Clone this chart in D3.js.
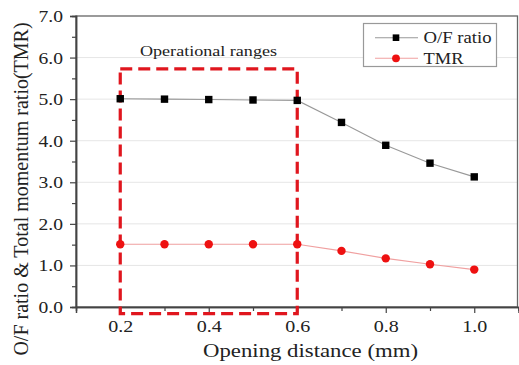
<!DOCTYPE html>
<html>
<head>
<meta charset="utf-8">
<script src="https://cdn.jsdelivr.net/npm/d3@7"></script>
<style>
  html, body { margin: 0; padding: 0; background: #fff; }
  svg { display: block; }
  text { font-family: "Liberation Serif", "Times New Roman", serif; fill: #222; }
</style>
</head>
<body>
<svg id="chart" width="519" height="365"></svg>
<script>
// Opening distance (mm)
const distances = [0.2, 0.3, 0.4, 0.5, 0.6, 0.7, 0.8, 0.9, 1.0];
// O/F ratio per opening distance
const ofRatio = [5.01, 5.00, 4.99, 4.98, 4.97, 4.44, 3.89, 3.46, 3.13];
// Total momentum ratio per opening distance
const tmr = [1.51, 1.51, 1.51, 1.51, 1.51, 1.35, 1.17, 1.03, 0.90];
// Axis ticks
const xTicks = [0.2, 0.4, 0.6, 0.8, 1.0];
const xMinorTicks = [0.3, 0.5, 0.7, 0.9];
const yTicks = [0, 1, 2, 3, 4, 5, 6, 7];
const yMinorTicks = [0.5, 1.5, 2.5, 3.5, 4.5, 5.5, 6.5];
// Operational range box: distance span and value span
const rangeX = [0.2, 0.6];
const rangeY = [-0.16, 5.73];
const rangeLabel = "Operational ranges";

const svg = d3.select("#chart");
const plotLeft = 76, plotRight = 517.5, plotTop = 16, plotBottom = 307;

const x = d3.scaleLinear().domain([0.1, 1.1]).range([plotLeft, plotRight + 1]);
const y = d3.scaleLinear().domain([0, 7]).range([plotBottom, plotTop]);

// widen glyphs horizontally by a factor (or to a fixed width)
function widen(sel, factor, width) {
  sel.each(function () {
    const w = width || this.getComputedTextLength() * factor;
    d3.select(this).attr("textLength", w).attr("lengthAdjust", "spacingAndGlyphs");
  });
}

// horizontal grid lines
svg.append("g").selectAll("line").data(yTicks.filter(d => d > 0 && d < 7)).join("line")
  .attr("x1", plotLeft).attr("x2", plotRight)
  .attr("y1", d => y(d)).attr("y2", d => y(d))
  .attr("stroke", "#e6e6e6").attr("stroke-width", 1);

// frame
svg.append("rect").attr("x", plotLeft).attr("y", plotTop)
  .attr("width", plotRight - plotLeft).attr("height", plotBottom - plotTop)
  .attr("fill", "none").attr("stroke", "#666").attr("stroke-width", 1.3);

// axes
const xAxis = svg.append("g").attr("transform", `translate(0,${plotBottom})`)
  .call(d3.axisBottom(x).tickValues(xTicks).tickFormat(d3.format(".1f")).tickSize(6).tickPadding(7));
const xMinor = svg.append("g").attr("transform", `translate(0,${plotBottom})`)
  .call(d3.axisBottom(x).tickValues(xMinorTicks).tickFormat("").tickSize(4));
const yAxis = svg.append("g").attr("transform", `translate(${plotLeft},0)`)
  .call(d3.axisLeft(y).tickValues(yTicks).tickFormat(d3.format(".1f")).tickSize(6).tickPadding(7));
const yMinor = svg.append("g").attr("transform", `translate(${plotLeft},0)`)
  .call(d3.axisLeft(y).tickValues(yMinorTicks).tickFormat("").tickSize(4));

[xAxis, xMinor, yAxis, yMinor].forEach(g => {
  g.select(".domain").attr("stroke", "#444").attr("stroke-width", 1.5);
  g.selectAll(".tick line").attr("stroke", "#444").attr("stroke-width", 1.2);
  g.selectAll(".tick text").attr("font-size", 17).attr("fill", "#222");
});
widen(xAxis.selectAll(".tick text"), 1.18);
widen(yAxis.selectAll(".tick text"), 1.15);

// axis titles
const xTitle = svg.append("text")
  .attr("x", 310.5).attr("y", 357)
  .attr("text-anchor", "middle").attr("font-size", 18)
  .text("Opening distance (mm)");
widen(xTitle, 1, 215);
svg.append("text")
  .attr("transform", "translate(28,189) rotate(-90)")
  .attr("text-anchor", "middle").attr("font-size", 20)
  .text("O/F ratio & Total momentum ratio(TMR)");

// series lines
const line = d3.line().x(d => x(d[0])).y(d => y(d[1]));
const ofData = distances.map((d, i) => [d, ofRatio[i]]);
const tmrData = distances.map((d, i) => [d, tmr[i]]);

svg.append("path").datum(ofData).attr("d", line)
  .attr("fill", "none").attr("stroke", "#999").attr("stroke-width", 1.1);
svg.append("path").datum(tmrData).attr("d", line)
  .attr("fill", "none").attr("stroke", "#f0a0a0").attr("stroke-width", 1.1);

// operational range box
svg.append("rect")
  .attr("x", x(rangeX[0])).attr("y", y(rangeY[1]))
  .attr("width", x(rangeX[1]) - x(rangeX[0]))
  .attr("height", y(rangeY[0]) - y(rangeY[1]))
  .attr("fill", "none").attr("stroke", "#e0161e").attr("stroke-width", 3.2)
  .attr("stroke-dasharray", "12,6");

const opLabel = svg.append("text")
  .attr("x", 208.5).attr("y", 55.5)
  .attr("text-anchor", "middle").attr("font-size", 15)
  .text(rangeLabel);
widen(opLabel, 1, 137);

// markers
svg.append("g").selectAll("rect").data(ofData).join("rect")
  .attr("x", d => x(d[0]) - 3.7).attr("y", d => y(d[1]) - 3.7)
  .attr("width", 7.4).attr("height", 7.4).attr("fill", "#000");
svg.append("g").selectAll("circle").data(tmrData).join("circle")
  .attr("cx", d => x(d[0])).attr("cy", d => y(d[1])).attr("r", 4.2)
  .attr("fill", "#ee1111");

// legend
const lg = svg.append("g");
lg.append("rect").attr("x", 363.5).attr("y", 23.5).attr("width", 133).attr("height", 43)
  .attr("fill", "#fff").attr("stroke", "#999").attr("stroke-width", 1.2);
const legendItems = [
  { name: "O/F ratio", color: "#999", shape: "square", yy: 37.7, w: 68 },
  { name: "TMR", color: "#f0a0a0", shape: "circle", yy: 58.3, w: 40 }
];
legendItems.forEach(it => {
  lg.append("line").attr("x1", 375).attr("x2", 418).attr("y1", it.yy).attr("y2", it.yy)
    .attr("stroke", it.color).attr("stroke-width", 1.1);
  if (it.shape === "square") {
    lg.append("rect").attr("x", 396 - 3.3).attr("y", it.yy - 3.3).attr("width", 6.6).attr("height", 6.6).attr("fill", "#000");
  } else {
    lg.append("circle").attr("cx", 396).attr("cy", it.yy).attr("r", 3.9).attr("fill", "#ee1111");
  }
  const t = lg.append("text").attr("x", 423.5).attr("y", it.yy + 5.6).attr("font-size", 16.5).text(it.name);
  widen(t, 1, it.w);
});
</script>
</body>
</html>
